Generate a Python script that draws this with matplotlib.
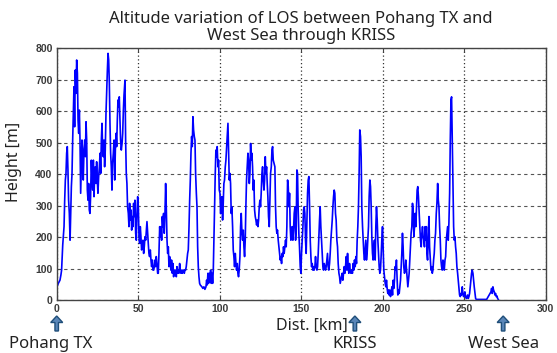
import matplotlib.pyplot as plt
from matplotlib.patches import FancyArrow

# LOS terrain profile (km, m)
dist_km = [
    0.0, 0.4, 1.0, 2.0, 2.6, 3.0, 3.7, 4.5, 4.9, 5.3, 5.7, 6.1, 6.5, 6.9, 7.3, 7.75, 8.2, 8.6, 9.0, 9.4,
    9.8, 10.2, 10.6, 11.0, 11.4, 11.8, 12.25, 12.7, 13.1, 13.5, 13.9, 14.3, 14.7, 15.1, 15.5, 15.9, 16.3, 16.75, 17.2, 17.6,
    18.0, 18.4, 18.8, 19.2, 19.6, 20.0, 20.4, 20.8, 21.25, 21.7, 22.1, 22.5, 22.9, 23.3, 23.7, 24.1, 24.5, 24.9, 25.3, 25.75,
    26.2, 26.6, 27.0, 27.4, 27.8, 28.2, 28.6, 29.0, 29.4, 29.8, 30.25, 30.7, 31.1, 31.5, 31.9, 32.3, 32.7, 33.1, 33.5, 33.9,
    34.3, 34.75, 35.2, 35.6, 36.0, 36.4, 36.8, 37.2, 37.6, 38.0, 38.4, 38.8, 39.2, 39.65, 40.1, 40.5, 40.9, 41.3,
    41.9, 42.3, 42.7, 43.1, 43.5, 43.95, 44.35, 44.75, 45.2, 45.6, 46.0, 46.4, 46.8, 47.2, 47.6, 48.0, 48.45, 48.85, 49.25, 49.7,
    50.1, 50.5, 50.9, 51.3, 51.7, 52.1, 52.5, 52.95, 53.35, 53.75, 54.2, 54.6, 55.0, 55.4, 55.8, 56.2, 56.6, 57.0, 57.45, 57.85,
    58.25, 58.7, 59.1, 59.5, 59.9, 60.3, 60.7, 61.1, 61.5, 61.95, 62.35, 62.75, 63.2, 63.6, 64.0, 64.4, 64.8, 65.2, 65.6, 66.0,
    66.45, 66.85, 67.25, 67.7, 68.1, 68.5, 68.9, 69.3, 69.7, 70.1, 70.5, 70.95, 71.35, 71.75, 72.2, 72.6, 73.0, 73.4, 73.8, 74.2,
    74.6, 75.0, 75.45, 75.85, 76.25, 76.7, 77.1, 77.5, 77.9, 78.3, 78.7, 79.1, 79.5, 79.95, 80.35, 80.75, 81.2, 81.6, 82.0, 82.4,
    82.8, 83.2, 83.6, 84.0, 84.45, 84.85, 85.25, 85.7, 86.1, 86.5, 86.9, 87.3, 87.7, 88.1,
    89.1, 89.7, 90.35, 90.95, 91.6, 92.0, 92.4, 92.8, 93.2, 93.6, 94.0, 94.45, 94.85, 95.3, 95.7, 96.1, 96.5, 96.9, 97.3, 97.7,
    98.1, 98.5, 98.95, 99.35, 99.75, 100.2, 100.6, 101.0, 101.4, 101.8, 102.2, 102.6, 103.0, 103.45, 103.85, 104.3, 104.7, 105.1, 105.5, 105.9,
    106.3, 106.7, 107.1, 107.5, 107.95, 108.35, 108.75, 109.15, 109.6, 110.0, 110.4, 110.8, 111.2, 111.6, 112.0, 112.45, 112.85, 113.25, 113.7, 114.1,
    114.5, 114.9, 115.3, 115.7, 116.1, 116.5, 116.95, 117.35, 117.75, 118.2, 118.6, 119.0, 119.4, 119.8, 120.2, 120.6, 121.0, 121.45, 121.85, 122.25,
    122.7, 123.1, 123.5, 123.9, 124.3, 124.7, 125.1, 125.5, 125.95, 126.35, 126.75, 127.2, 127.6, 128.0, 128.4, 128.8, 129.2, 129.6, 130.0, 130.45,
    130.85, 131.25, 131.7, 132.1, 132.5, 132.9,
    133.9, 134.3, 134.7, 135.1, 135.5, 135.95, 136.35, 136.75, 137.2, 137.6, 138.0, 138.4, 138.8, 139.2, 139.6, 140.0, 140.45, 140.85, 141.25, 141.7,
    142.1, 142.5, 142.9, 143.3, 143.7, 144.1, 144.5, 144.95, 145.35, 145.75, 146.2, 146.6, 147.0, 147.4, 147.8, 148.2, 148.6, 149.0, 149.45, 149.85,
    150.25, 150.7, 151.1, 151.5, 151.9, 152.3, 152.7, 153.1, 153.5, 153.95, 154.35, 154.75, 155.2, 155.6, 156.0, 156.4, 156.8, 157.2, 157.6, 158.0,
    158.45, 158.85, 159.25, 159.7, 160.1, 160.5, 160.9, 161.3, 161.7, 162.1, 162.5, 162.95, 163.35, 163.75, 164.2, 164.6, 165.0, 165.4, 165.8, 166.2,
    166.6, 167.0, 167.45, 167.85, 168.25, 168.7, 169.1, 169.5, 169.9, 170.3, 170.7, 171.1, 171.5, 171.95, 172.35, 172.75, 173.2, 173.6, 174.0, 174.4,
    174.8, 175.2, 175.6, 176.0, 176.45, 176.85, 177.25, 177.7, 178.1, 178.5, 178.9, 179.3, 179.7, 180.1, 180.55,
    181.1, 181.5, 181.95, 182.35, 182.75, 183.2, 183.6, 184.0, 184.4, 184.8, 185.2, 185.6, 186.0, 186.45, 186.85, 187.25, 187.7, 188.1, 188.5, 188.9,
    189.3, 189.7, 190.1, 190.5, 190.95, 191.35, 191.75, 192.2, 192.6, 193.0, 193.4, 193.8, 194.2, 194.6, 195.0, 195.45, 195.85, 196.25, 196.7, 197.1,
    197.5, 197.9, 198.3, 198.7, 199.1, 199.5, 199.95, 200.35, 200.75, 201.2, 201.6, 202.0, 202.4, 202.8, 203.2, 203.6, 204.0, 204.45, 204.85, 205.25,
    205.7, 206.1, 206.5, 206.9, 207.3, 207.7, 208.1, 208.5, 208.95, 209.35, 209.75, 210.2, 210.6, 211.0, 211.4, 211.8, 212.2, 212.6, 213.0, 213.45,
    213.85, 214.25, 214.7, 215.1, 215.5, 215.9, 216.3, 216.7, 217.1, 217.5, 217.95, 218.35, 218.75, 219.2, 219.6, 220.0, 220.4, 220.8, 221.2, 221.6,
    222.0, 222.45, 222.85, 223.25, 223.7, 224.1, 224.5, 224.9, 225.3, 225.7, 226.1, 226.5, 226.9,
    227.2, 227.6, 228.0, 228.45, 228.85, 229.3, 229.7, 230.1, 230.5, 230.9, 231.3, 231.7, 232.1, 232.5, 232.95, 233.35, 233.8, 234.2, 234.6, 235.0,
    235.4, 235.8, 236.2, 236.6, 237.05, 237.45, 237.85, 238.3, 238.7, 239.1, 239.5, 239.9, 240.3, 240.7, 241.15, 241.55, 241.95, 242.35, 242.75, 243.2,
    243.6, 244.0, 244.4, 244.8, 245.2, 245.6, 246.05, 246.45, 246.85, 247.25, 247.7, 248.1, 248.5, 248.9, 249.3, 249.7, 250.1, 250.5, 250.95, 251.35,
    251.75, 252.2, 252.6, 253.0, 253.4, 253.8, 254.2, 254.6, 255.0, 255.45, 255.85, 256.25, 256.7, 257.1, 257.5, 258.3, 259.75, 261.8, 263.85, 264.85,
    265.9, 266.5, 266.9, 267.3, 267.7, 268.1, 268.55, 268.95, 269.35, 269.75, 270.2, 270.6, 271.0,
]
height_m = [
    42, 45, 53, 63, 80, 95, 175, 233, 317, 381, 402, 466, 487, 413, 317, 275, 190, 275, 360, 402,
    508, 593, 677, 550, 730, 656, 762, 720, 571, 529, 603, 508, 339, 423, 508, 466, 381, 476, 508, 455,
    566, 508, 349, 317, 370, 286, 275, 328, 444, 381, 349, 444, 328, 402, 423, 370, 439, 381, 339, 392,
    423, 466, 402, 508, 561, 476, 455, 508, 423, 476, 593, 667, 730, 783, 762, 688, 561, 466, 423, 349,
    434, 466, 508, 381, 476, 529, 487, 571, 635, 614, 645, 571, 508, 476, 497, 529, 600, 650,
    698, 508, 402, 370, 296, 275, 233, 307, 254, 286, 222, 265, 233, 307, 265, 317, 212, 190, 275, 328,
    296, 201, 180, 233, 201, 159, 169, 190, 148, 169, 201, 190, 222, 249, 212, 180, 148, 138, 159, 127,
    106, 127, 95, 95, 106, 127, 106, 138, 116, 85, 85, 148, 233, 201, 233, 190, 265, 233, 275, 212,
    275, 370, 296, 190, 148, 169, 106, 138, 116, 95, 127, 85, 116, 74, 95, 85, 95, 74, 106, 85,
    95, 85, 116, 95, 85, 95, 85, 95, 95, 85, 95, 95, 106, 127, 148, 159, 233, 317, 381, 466,
    519, 487, 582, 540, 519, 508, 402, 339, 296, 169, 106, 74, 53, 48,
    42, 37, 42, 34, 42, 63, 48, 85, 53, 85, 58, 95, 53, 85, 53, 95, 190, 296, 402, 476,
    455, 487, 423, 444, 349, 339, 275, 317, 328, 254, 307, 370, 381, 423, 444, 487, 529, 561, 466, 381,
    402, 370, 275, 296, 233, 159, 138, 106, 148, 116, 95, 116, 85, 74, 95, 138, 233, 275, 212, 190,
    222, 169, 138, 190, 296, 381, 423, 466, 444, 370, 402, 497, 444, 466, 423, 349, 381, 286, 265, 254,
    238, 254, 233, 254, 296, 317, 296, 339, 402, 423, 381, 349, 381, 455, 402, 423, 370, 328, 265, 233,
    317, 402, 423, 476, 487, 444,
    423, 296, 233, 212, 222, 190, 169, 148, 127, 138, 116, 148, 138, 169, 148, 169, 190, 169, 233, 381,
    360, 296, 339, 233, 190, 201, 233, 190, 222, 275, 296, 190, 233, 413, 402, 286, 212, 169, 106, 85,
    148, 190, 233, 286, 296, 275, 190, 148, 233, 339, 381, 392, 296, 190, 138, 106, 116, 95, 106, 95,
    106, 138, 106, 95, 106, 148, 201, 254, 296, 233, 190, 148, 106, 95, 116, 106, 95, 106, 127, 148,
    106, 95, 116, 148, 190, 222, 254, 296, 328, 349, 339, 275, 254, 190, 169, 116, 85, 74, 53, 63,
    74, 85, 63, 85, 106, 85, 106, 138, 95, 148, 106, 85, 116, 95, 85,
    95, 85, 116, 95, 127, 106, 138, 116, 190, 233, 296, 402, 540, 519, 455, 296, 233, 190, 148, 127,
    159, 190, 127, 148, 190, 233, 328, 381, 360, 296, 201, 148, 127, 169, 190, 127, 233, 296, 254, 190,
    148, 106, 85, 95, 138, 190, 233, 169, 95, 74, 53, 42, 63, 37, 21, 32, 16, 32, 11, 21,
    42, 16, 63, 37, 63, 106, 95, 127, 63, 16, 32, 21, 42, 63, 106, 148, 212, 169, 106, 85,
    95, 127, 95, 63, 42, 63, 85, 127, 169, 212, 233, 307, 286, 201, 233, 275, 233, 296, 349, 360,
    328, 275, 233, 190, 169, 212, 233, 201, 190, 169, 233, 190, 233,
    148, 127, 190, 265, 169, 127, 95, 106, 85, 95, 127, 148, 190, 212, 275, 307, 370, 317, 296, 233,
    190, 127, 106, 95, 127, 116, 95, 127, 138, 190, 212, 233, 190, 244, 339, 508, 635, 645, 508, 370,
    233, 190, 201, 169, 148, 106, 85, 63, 42, 16, 11, 21, 16, 42, 21, 11, 16, 26, 11, 5,
    8, 16, 5, 11, 21, 42, 63, 85, 95, 85, 63, 42, 21, 5, 2, 2, 2, 2, 2, 11,
    21, 26, 37, 21, 42, 32, 26, 16, 21, 11, 13, 5, 2,
]

x_ticks = [0, 50, 100, 150, 200, 250, 300]
y_ticks = [0, 100, 200, 300, 400, 500, 600, 700, 800]
sites = ['Pohang TX', 'KRISS', 'West Sea']
site_km = [0, 183, 274]

plt.rcParams['font.family'] = ['Noto Sans', 'DejaVu Sans']

fig = plt.figure(figsize=(5.57, 3.53), dpi=100)
ax = fig.add_axes([0.1018, 0.150, 0.8776, 0.714])

ax.plot(dist_km, height_m, color='#0000ff', lw=1.2)

ax.set_xlim(0, 300)
ax.set_ylim(0, 800)
ax.set_xticks(x_ticks)
ax.set_yticks(y_ticks)
ax.xaxis.grid(True, linestyle=(0, (1, 2)), color='#333333', lw=0.9)
ax.yaxis.grid(True, linestyle=(0, (3, 3)), color='#555555', lw=0.8)
ax.tick_params(direction='in', length=3, width=0.8, colors='#444444', pad=3,
               top=True, right=True)
for lbl in ax.get_xticklabels() + ax.get_yticklabels():
    lbl.set_fontfamily('Liberation Sans')
    lbl.set_fontweight('bold')
    lbl.set_fontsize(7.5)
    lbl.set_color('#3a3a3a')
for sp in ax.spines.values():
    sp.set_color('#444444')
    sp.set_linewidth(1.0)

ax.set_title('Altitude variation of LOS between Pohang TX and\nWest Sea through KRISS',
             fontsize=12, linespacing=1.05, pad=6, color='#222222')
fig.text(0.025, 0.54, 'Height [m]', rotation=90, ha='center', va='center',
         fontsize=11.5, color='#222222')
fig.text(0.56, 0.076, 'Dist. [km]', ha='center', va='center', fontsize=11.5, color='#222222')

# site markers under the axis
fig.canvas.draw()
for name, km in zip(sites, site_km):
    xpix = ax.transData.transform((km, 0))[0]
    xin = xpix / fig.dpi
    fig.add_artist(FancyArrow(xin, 0.22, 0, 0.15, width=0.035, head_width=0.12,
                              head_length=0.065, length_includes_head=True,
                              fc='#5a86b8', ec='#1f4e79', lw=1.0,
                              transform=fig.dpi_scale_trans))
    fig.text(xpix / (5.57 * fig.dpi) - 0.01 * (km == 0), 0.026, name, ha='center', va='center',
             fontsize=12, color='#222222')

fig.savefig('out.png', dpi=100)
